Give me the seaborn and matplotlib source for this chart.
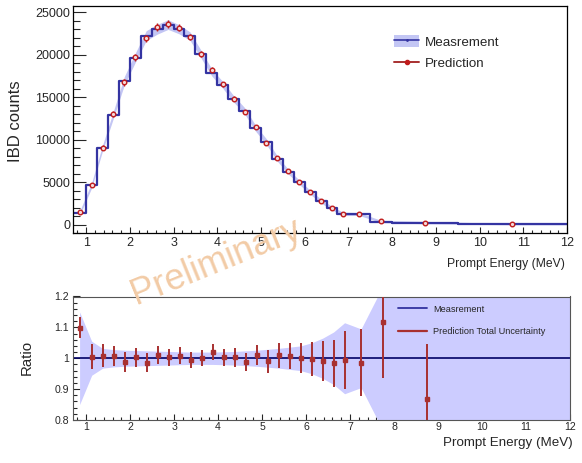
import numpy as np
import pandas as pd
import matplotlib
matplotlib.use("Agg")
import matplotlib.pyplot as plt
import seaborn as sns
from matplotlib.patches import Patch
from matplotlib.lines import Line2D
from matplotlib.ticker import MultipleLocator, FuncFormatter

# ---------------- data ----------------
bin_edges = [0.7, 1.0, 1.25, 1.5, 1.75, 2.0, 2.25, 2.5, 2.75, 3.0, 3.25, 3.5,
             3.75, 4.0, 4.25, 4.5, 4.75, 5.0, 5.25, 5.5, 5.75, 6.0, 6.25,
             6.5, 6.75, 7.0, 7.5, 8.0, 9.5, 12.0]

measurement = [1300, 4600, 9000, 12950, 16950, 19650, 22250, 23000, 23550,
               23000, 22200, 20100, 17900, 16450, 14800, 13400, 11350, 9750,
               7750, 6220, 4980, 3800, 2760, 1920, 1250, 1230, 350, 230, 40]

prediction = [1420, 4620, 9070, 13050, 16750, 19710, 21930, 23250, 23620,
              23180, 22090, 20100, 18260, 16500, 14840, 13240, 11460, 9650,
              7830, 6260, 4980, 3790, 2730, 1890, 1240, 1215, 390, 200, 45]

prediction_err = [60, 150, 250, 330, 380, 420, 450, 460, 450, 430, 400, 370,
                  330, 300, 270, 240, 210, 190, 160, 140, 120, 100, 80, 60,
                  50, 45, 20, 15, 5]

# relative measurement uncertainty (band)
meas_rel_unc = [0.150, 0.055, 0.032, 0.028, 0.026, 0.025, 0.024, 0.023, 0.022,
                0.021, 0.020, 0.020, 0.020, 0.021, 0.022, 0.024, 0.026, 0.029,
                0.032, 0.036, 0.040, 0.050, 0.065, 0.085, 0.115, 0.095, 0.235,
                0.40, 0.60]

ratio = [1.099, 1.005, 1.008, 1.008, 0.988, 1.003, 0.985, 1.011, 1.003, 1.008,
         0.995, 1.000, 1.020, 1.003, 1.003, 0.988, 1.010, 0.990, 1.010, 1.007,
         1.000, 0.998, 0.990, 0.983, 0.995, 0.986, 1.117, 0.867, np.nan]

ratio_err = [0.034, 0.041, 0.037, 0.033, 0.031, 0.031, 0.031, 0.029, 0.028,
             0.027, 0.025, 0.026, 0.026, 0.027, 0.030, 0.030, 0.033, 0.037,
             0.041, 0.043, 0.048, 0.055, 0.065, 0.075, 0.093, 0.108, 0.18,
             0.18, np.nan]

x_ticks = list(range(1, 13))
y_ticks_top = [0, 5000, 10000, 15000, 20000, 25000]
y_ticks_bot = [0.8, 0.9, 1.0, 1.1, 1.2]

# ---------------- style ----------------
sns.set_style("ticks")
plt.rcParams['font.family'] = ['Liberation Sans', 'DejaVu Sans']

hist_color = '#3434a2'
band_top = '#c3c6f4'
band_bot = '#ccccff'
red = '#a83030'
navy = '#000066'

edges = np.array(bin_edges)
centers = 0.5 * (edges[:-1] + edges[1:])
meas = np.array(measurement, float)
unc = np.array(meas_rel_unc)
band_x = np.append(centers, edges[-1])
band_meas = np.append(meas, meas[-1])
band_unc = np.append(unc, unc[-1])

df = pd.DataFrame({'energy': centers, 'counts': meas})

W, H = 582, 463
fig = plt.figure(figsize=(W / 100, H / 100), dpi=100)


def box(l, t, r, b):
    return [l / W, 1 - b / H, (r - l) / W, (b - t) / H]


ax1 = fig.add_axes(box(73, 5.5, 567, 233))
ax2 = fig.add_axes(box(73, 296.5, 570, 420))

# ---------------- top panel ----------------
ax1.fill_between(band_x, band_meas * (1 - band_unc) - 50,
                 band_meas * (1 + band_unc) + 50,
                 color=band_top, lw=0, zorder=1)
sns.histplot(data=df, x='energy', weights='counts', bins=list(bin_edges),
             element='step', fill=False, color=hist_color, linewidth=1.6,
             ax=ax1, zorder=2)
ax1.errorbar(centers, prediction, yerr=prediction_err, fmt='o', ms=3.3,
             mec='#c01c1c', mfc='#f3dada', mew=1.0, ecolor='#c01c1c',
             elinewidth=1.0, capsize=0, zorder=3)
ax1.set_xlim(0.7, 12)
ax1.set_ylim(-1000, 25800)
ax1.set_xlabel('')
ax1.set_ylabel('')
ax1.set_xticks(x_ticks)
ax1.set_yticks(y_ticks_top)
ax1.xaxis.set_minor_locator(MultipleLocator(0.2))
ax1.yaxis.set_minor_locator(MultipleLocator(1000))
ax1.tick_params(axis='y', which='major', direction='in', length=9.5,
                width=0.8, labelsize=9, pad=2, right=False)
ax1.tick_params(axis='y', which='minor', direction='in', length=5,
                width=0.8, right=False)
ax1.tick_params(axis='x', which='major', direction='in', length=4.5,
                width=0.8, labelsize=9, pad=3, top=False)
ax1.tick_params(axis='x', which='minor', direction='in', length=2.3,
                width=0.8, top=False)
for s in ax1.spines.values():
    s.set_visible(True)
    s.set_linewidth(0.9)
    s.set_color('black')

# ---------------- bottom panel ----------------
ax2.fill_between(band_x, 1 - band_unc, 1 + band_unc, color=band_bot, lw=0,
                 zorder=1)
ax2.axhline(1.0, color=navy, lw=1.2, zorder=2)
ax2.errorbar(centers, ratio, yerr=ratio_err, fmt='s', ms=2.6, color=red,
             mec=red, mfc=red, elinewidth=1.4, capsize=0, zorder=3)
ax2.set_xlim(0.7, 12)
ax2.set_ylim(0.8, 1.2)
ax2.set_xticks(x_ticks)
ax2.set_yticks(y_ticks_bot)
ax2.yaxis.set_major_formatter(FuncFormatter(lambda v, p: '%g' % v))
ax2.xaxis.set_minor_locator(MultipleLocator(0.2))
ax2.yaxis.set_minor_locator(MultipleLocator(0.02))
ax2.tick_params(axis='y', which='major', direction='in', length=5,
                width=0.8, labelsize=7.6, pad=3, right=False)
ax2.tick_params(axis='y', which='minor', direction='in', length=2.8,
                width=0.8, right=False)
ax2.tick_params(axis='x', which='major', direction='in', length=4,
                width=0.8, labelsize=7.6, pad=1.5, top=False)
ax2.tick_params(axis='x', which='minor', direction='in', length=2,
                width=0.8, top=False)
for s in ax2.spines.values():
    s.set_visible(True)
    s.set_linewidth(0.8)
    s.set_color('#555555')

# ---------------- labels ----------------
fig.text(16 / W, 1 - 121.5 / H, 'IBD counts', rotation=90, ha='center',
         va='center', fontsize=12)
fig.text(565 / W, 1 - 264 / H, 'Prompt Energy (MeV)', ha='right',
         va='center', fontsize=8.7)
fig.text(27 / W, 1 - 357 / H, 'Ratio', rotation=90, ha='center',
         va='center', fontsize=10.8)
fig.text(573 / W, 1 - 443 / H, 'Prompt Energy (MeV)', ha='right',
         va='center', fontsize=9.6)

# watermark
fig.text(216 / W, 1 - 262 / H, 'Preliminary', rotation=22, ha='center',
         va='center', fontsize=26, color='#f2cba6', zorder=10)

# ---------------- legends ----------------
h_meas = (Patch(facecolor=band_top, edgecolor='none'),
          Line2D([], [], color=hist_color, lw=1.2, marker='.', ms=2))
h_pred = Line2D([], [], color=red, lw=1.4, marker='o', ms=3, mfc='#c01c1c',
                mec='#c01c1c')
fig.legend([h_meas, h_pred], ['Measrement', 'Prediction'], loc='upper left',
           bbox_to_anchor=(394 / W, 1 - 35 / H), frameon=False, fontsize=9.6,
           handlelength=1.9, handleheight=1.05, handletextpad=0.4,
           labelspacing=0.6, borderpad=0, borderaxespad=0)

h_m2 = Line2D([], [], color='#3333a0', lw=1.3)
h_p2 = Line2D([], [], color=red, lw=1.6)
fig.legend([h_m2, h_p2], ['Measrement', 'Prediction Total Uncertainty'],
           loc='upper left', bbox_to_anchor=(398 / W, 1 - 304.5 / H),
           frameon=False, fontsize=6.6, handlelength=3.2, handletextpad=0.65,
           labelspacing=1.45, borderpad=0, borderaxespad=0)

fig.savefig('out.png', dpi=100)
